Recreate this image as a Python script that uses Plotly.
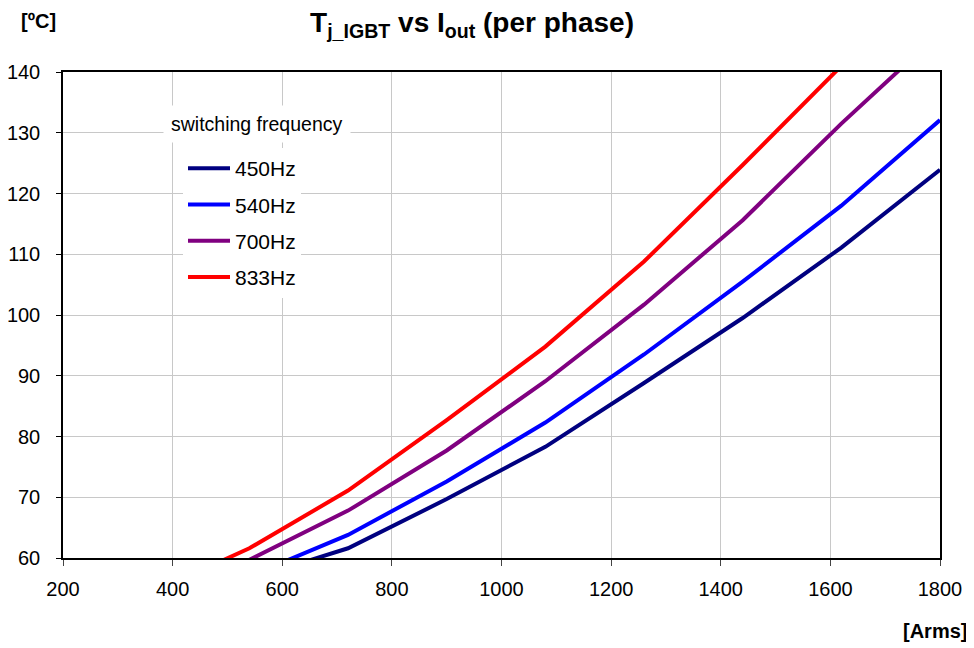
import plotly.graph_objects as go

current = [360, 540, 720, 900, 1080, 1260, 1440, 1620, 1800]
series_names = ["450Hz", "540Hz", "700Hz", "833Hz"]
t_450 = [50.0, 56.5, 61.6, 69.7, 78.3, 88.8, 99.5, 111.1, 123.9]
t_540 = [51.0, 57.0, 63.8, 72.6, 82.3, 93.5, 105.5, 118.0, 132.1]
t_700 = [52.5, 59.7, 67.8, 77.7, 89.1, 101.7, 115.6, 131.5, 146.5]
t_833 = [54.2, 61.6, 71.1, 82.7, 94.8, 108.8, 124.7, 141.0, 159.0]
colors = ["#000080", "#0000FF", "#800080", "#FF0000"]

FONT = "Liberation Sans, Arial, sans-serif"

# page has an 8px body margin; layout numbers below compensate for it
ML, MR, MT, MB = 55, 42, 64, 98
PW = 974 - ML - MR
PH = 648 - MT - MB


def px_x(x):
    return (x - 8 - ML) / PW


def px_y(y):
    return (648 - MB - (y - 8)) / PH


fig = go.Figure()
for i, (name, ys) in enumerate(zip(series_names, [t_450, t_540, t_700, t_833])):
    fig.add_trace(go.Scatter(
        x=current, y=ys, mode="lines", name=name, legendgroup=name,
        line=dict(color=colors[i], width=4),
    ))

fig.update_layout(
    width=974, height=648,
    margin=dict(l=ML, r=MR, t=MT, b=MB, autoexpand=False),
    paper_bgcolor="white", plot_bgcolor="white",
    font=dict(family=FONT, color="black", size=20),
    title=dict(
        text="<b>T<sub>j_IGBT</sub> vs I<sub>out</sub> (per phase)</b>",
        x=464 / 974, xanchor="center", y=1 - 14 / 648, yanchor="middle",
        font=dict(size=28, family=FONT),
    ),
    showlegend=True,
    legend=dict(
        x=px_x(183), xanchor="left", y=px_y(148), yanchor="top",
        bgcolor="white", borderwidth=0,
        font=dict(size=21, family=FONT),
        tracegroupgap=6,
        itemwidth=42,
    ),
    xaxis=dict(
        range=[200, 1800], dtick=200, tick0=200,
        showgrid=True, gridcolor="#c8c8c8", gridwidth=1,
        showline=True, linecolor="black", linewidth=1.5, mirror=True,
        ticks="outside", ticklen=6, tickcolor="#444444",
        tickfont=dict(size=20), zeroline=False,
        ticklabelstandoff=6, automargin=False,
    ),
    yaxis=dict(
        range=[60, 140], dtick=10, tick0=60,
        showgrid=True, gridcolor="#c8c8c8", gridwidth=1,
        showline=True, linecolor="black", linewidth=1.5, mirror=True,
        ticks="outside", ticklen=5, tickcolor="black",
        tickfont=dict(size=20), zeroline=False,
        ticklabelstandoff=12, automargin=False,
    ),
    annotations=[
        dict(text="<b>[ºC]</b>", x=px_x(38), y=px_y(21), xref="paper", yref="paper",
             xanchor="center", yanchor="middle", showarrow=False, font=dict(size=20)),
        dict(text="<b>[Arms]</b>", x=px_x(935), y=px_y(631), xref="paper", yref="paper",
             xanchor="center", yanchor="middle", showarrow=False, font=dict(size=20)),
        dict(text="switching frequency", x=px_x(257), y=px_y(124), xref="paper", yref="paper",
             xanchor="center", yanchor="middle", showarrow=False,
             font=dict(size=19.5), bgcolor="white", borderpad=7),
    ],
)

fig.write_html("out.html")
